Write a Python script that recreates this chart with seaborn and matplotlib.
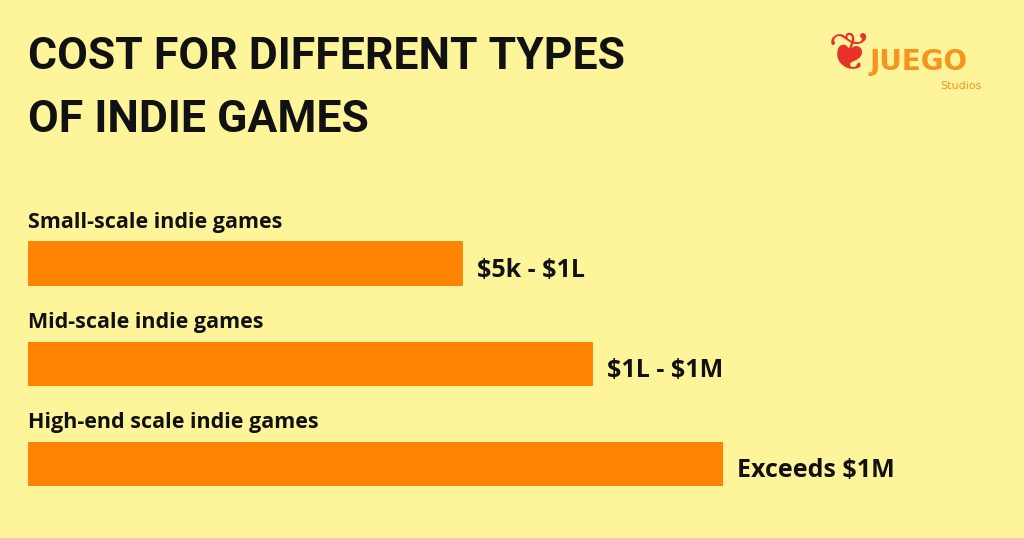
import matplotlib
matplotlib.use("Agg")
import matplotlib.pyplot as plt
import seaborn as sns

plt.rcParams["text.parse_math"] = False

categories = ["Small-scale indie games", "Mid-scale indie games", "High-end scale indie games"]
bar_lengths = [435, 565, 695]  # relative visual length
value_labels = ["$5k - $1L", "$1L - $1M", "Exceeds $1M"]

bg = "#FEF59B"
orange = "#FF8403"

fig = plt.figure(figsize=(10.24, 5.38), dpi=100, facecolor=bg)
ax = fig.add_axes([0, 0, 1, 1])
ax.set_facecolor(bg)

sns.barplot(x=bar_lengths, y=categories, orient="h", color=orange, width=0.44,
            saturation=1, ax=ax)
ax.set_xlim(-28, 996)
ax.set_ylim(2.74, -2.63)
ax.axis("off")

for i, (cat, v, lab) in enumerate(zip(categories, bar_lengths, value_labels)):
    ax.text(0, i - 0.41, cat, fontsize=15.5, fontweight="bold", family="Open Sans",
            ha="left", va="center", color="#111111")
    ax.text(v + 14, i + 0.07, lab, fontsize=18, fontweight="bold", family="Open Sans",
            ha="left", va="center", color="#111111")

fig.text(28 / 1024, 1 - 57 / 538, "COST FOR DIFFERENT TYPES", fontsize=32, fontweight="heavy",
         family=["Liberation Sans Narrow", "Roboto"], color="#111111", va="center")
fig.text(28 / 1024, 1 - 120 / 538, "OF INDIE GAMES", fontsize=32, fontweight="heavy",
         family=["Liberation Sans Narrow", "Roboto"], color="#111111", va="center")

# logo
fig.text(870 / 1024, 1 - 62 / 538, "JUEGO", fontsize=20, fontweight="bold", color="#F7931E",
         va="center", ha="left")
fig.text(940 / 1024, 1 - 86 / 538, "Studios", fontsize=8, color="#F7931E", va="center")
fig.text(828 / 1024, 1 - 55 / 538, "\u2766", fontsize=38, color="#E8312A", va="center")

fig.savefig("out.png", dpi=100, facecolor=bg)
